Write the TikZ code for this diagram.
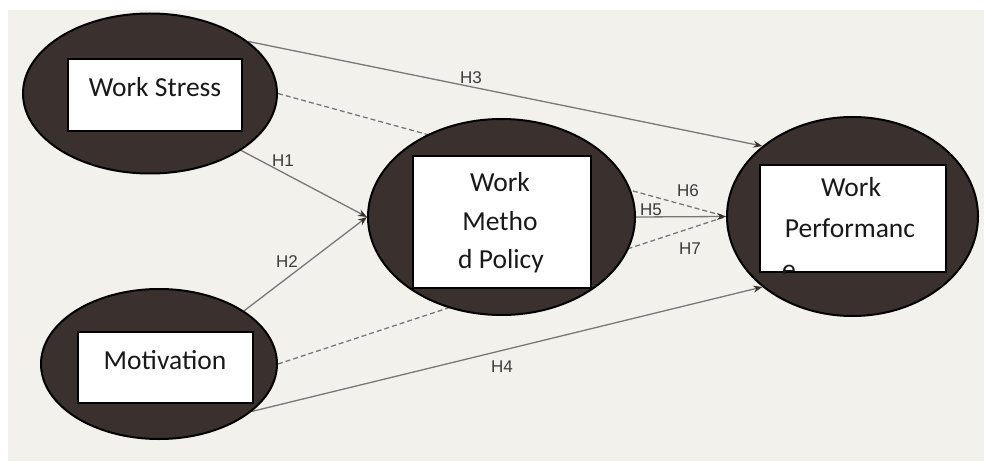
\documentclass[tikz,border=0pt]{standalone}
\usepackage{fontspec}
\setmainfont{Carlito}
\newfontfamily\labelfont{Liberation Sans}
\usetikzlibrary{shapes.geometric,arrows.meta}
\definecolor{bgbeige}{RGB}{243,241,236}
\definecolor{ellfill}{RGB}{58,49,46}
\definecolor{linegray}{RGB}{120,120,120}
\definecolor{labgray}{RGB}{60,60,60}
\definecolor{txt}{RGB}{25,25,25}
\pgfdeclarelayer{bg}
\pgfdeclarelayer{edges}
\pgfsetlayers{bg,edges,main}
\tikzset{
  latent/.style={ellipse, draw=black, line width=2pt, fill=ellfill, inner sep=0pt},
  tbox/.style={rectangle, draw=black, line width=1.6pt, fill=white, inner sep=0pt},
  btext/.style={font=\fontsize{27.5}{33}\selectfont, text=txt, inner sep=0pt, anchor=base},
  hlab/.style={font=\labelfont\fontsize{17}{19}\selectfont, text=labgray, inner sep=0pt},
  path/.style={draw=linegray, line width=1.3pt, -{Stealth[length=9pt,width=7pt,color=ellfill]}},
  med/.style={draw=linegray, line width=1.3pt, dash pattern=on 5pt off 3pt},
}
\begin{document}
\begin{tikzpicture}[x=1pt,y=-1pt]
\begin{pgfonlayer}{bg}
\fill[white] (0,0) rectangle (984,462);
\fill[bgbeige] (8,10) rectangle (984,461);
\end{pgfonlayer}
\useasboundingbox (0,0) rectangle (984,462);

% latent ellipses
\node[latent, minimum width=254pt, minimum height=160pt] (ws) at (150,93.5) {};
\node[latent, minimum width=236pt, minimum height=150pt] (mot) at (159,364) {};
\node[latent, minimum width=267pt, minimum height=196pt] (wm) at (501.5,217) {};
\node[latent, minimum width=251pt, minimum height=199pt] (wp) at (852.5,216.5) {};

% boxes
\node[tbox, minimum width=174pt, minimum height=72pt] (wsbox) at (155,95) {};
\node[tbox, minimum width=175pt, minimum height=71pt] (motbox) at (165.5,367.5) {};
\node[tbox, minimum width=178pt, minimum height=132pt] (wmbox) at (502,222) {};
\node[tbox, minimum width=186pt, minimum height=107pt] (wpbox) at (853,218.5) {};

% box texts
\node[btext] (wst) at (155,97) {Work Stress};
\node[btext] (mott) at (165,369) {Motivation};
\node[btext] (wm1) at (500,192) {Work};
\node[btext] (wm2) at (500,231) {Metho};
\node[btext] (wm3) at (501,268) {d Policy};
\node[btext] (wp1) at (851,197) {Work};
\node[btext] (wp2) at (850,237) {Performanc};
\begin{scope}
\clip ([shift={(0.8pt,-0.8pt)}]wpbox.south west) rectangle ([shift={(-0.8pt,0.8pt)}]wpbox.north east);
\node[btext, anchor=base west] (wp3) at (782,278) {e};
\end{scope}

% connectors
\begin{pgfonlayer}{edges}
\draw[med] (ws.east) -- (wp.west);
\draw[med] (mot.east) -- (wp.west);
\draw[path] (ws.28.4) -- (wp.142.5);
\draw[path] (ws.-32.2) -- (wm.west);
\draw[path] (mot.32) -- (wm.west);
\draw[path] (mot.-27.8) -- (wp.218.3);
\draw[path] (wm.east) -- (wp.west);
\end{pgfonlayer}

% labels
\node[hlab] (h3) at (471,78) {H3};
\node[hlab] (h1) at (283,161) {H1};
\node[hlab] (h2) at (287,262) {H2};
\node[hlab] (h4) at (502,367) {H4};
\node[hlab] (h5) at (651,210) {H5};
\node[hlab] (h6) at (688,191) {H6};
\node[hlab] (h7) at (690,249) {H7};
\end{tikzpicture}
\end{document}
